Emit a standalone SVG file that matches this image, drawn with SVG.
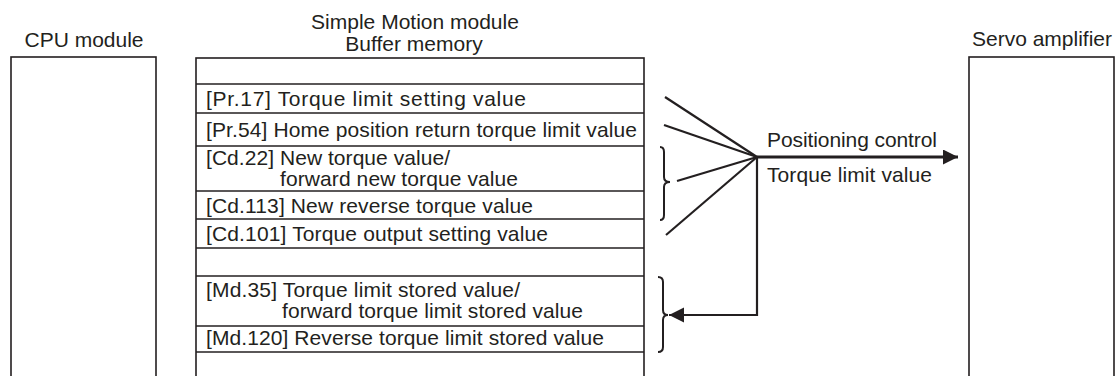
<svg xmlns="http://www.w3.org/2000/svg" width="1115" height="376" viewBox="0 0 1115 376">
<defs>
<style>
.box{fill:#fff;stroke:#231f20;stroke-width:1.6}
.row{stroke:#231f20;stroke-width:1.4}
.t{font-family:"Liberation Sans",Arial,sans-serif;font-size:21px;fill:#231f20}
.h{font-family:"Liberation Sans",Arial,sans-serif;font-size:21px;fill:#231f20;text-anchor:middle}
.ln{stroke:#231f20;stroke-width:2.2;fill:none}
.br{stroke:#231f20;stroke-width:2;fill:none}
</style>
<marker id="ah" markerWidth="16" markerHeight="16" refX="15" refY="7.5" orient="auto" markerUnits="userSpaceOnUse">
<path d="M0,0 L15,7.5 L0,15 Z" fill="#231f20"/>
</marker>
</defs>
<rect width="1115" height="376" fill="#fff"/>
<g id="cpu">
<rect class="box" x="11" y="57" width="145" height="330"/>
<text class="h" x="84" y="47">CPU module</text>
</g>
<g id="servo">
<rect class="box" x="969" y="57" width="145" height="330"/>
<text class="h" x="1042" y="46">Servo amplifier</text>
</g>
<g id="memory">
<text class="h" x="415" y="29">Simple Motion module</text>
<text class="h" x="414" y="51">Buffer memory</text>
<rect class="box" x="196" y="58" width="448" height="330"/>
<line class="row" x1="196" y1="84" x2="644" y2="84"/>
<line class="row" x1="196" y1="113" x2="644" y2="113"/>
<line class="row" x1="196" y1="146" x2="644" y2="146"/>
<line class="row" x1="196" y1="191" x2="644" y2="191"/>
<line class="row" x1="196" y1="219" x2="644" y2="219"/>
<line class="row" x1="196" y1="248" x2="644" y2="248"/>
<line class="row" x1="196" y1="276" x2="644" y2="276"/>
<line class="row" x1="196" y1="326" x2="644" y2="326"/>
<line class="row" x1="196" y1="352" x2="644" y2="352"/>
<text class="t" x="206" y="106" textLength="320">[Pr.17] Torque limit setting value</text>
<text class="t" x="206" y="137" textLength="431">[Pr.54] Home position return torque limit value</text>
<text class="t" x="206" y="165" textLength="244">[Cd.22] New torque value/</text>
<text class="t" x="280" y="186" textLength="238">forward new torque value</text>
<text class="t" x="206" y="213" textLength="327">[Cd.113] New reverse torque value</text>
<text class="t" x="206" y="241" textLength="342">[Cd.101] Torque output setting value</text>
<text class="t" x="206" y="297" textLength="314">[Md.35] Torque limit stored value/</text>
<text class="t" x="282" y="318" textLength="301">forward torque limit stored value</text>
<text class="t" x="206" y="345" textLength="398">[Md.120] Reverse torque limit stored value</text>
</g>
<g id="braces">
<path class="br" d="M660,147 Q664,147 664,152 L664,177 Q664,182 670,182 Q664,182 664,187 L664,215 Q664,220 660,220"/>
<path class="br" d="M658,277 Q663,277 663,282 L663,310 Q663,315 668,315 Q663,315 663,320 L663,347 Q663,352 658,352"/>
</g>
<g id="connectors">
<line class="ln" x1="665" y1="97" x2="757" y2="157"/>
<line class="ln" x1="664" y1="125" x2="757" y2="157"/>
<line class="ln" x1="677" y1="181" x2="757" y2="157"/>
<line class="ln" x1="666" y1="235" x2="757" y2="157"/>
<line stroke="#231f20" stroke-width="3.2" x1="757" y1="157" x2="958" y2="157" marker-end="url(#ah)"/>
<polyline class="ln" points="757,157 757,315 669,315" marker-end="url(#ah)"/>
<text class="t" x="767" y="147" textLength="170">Positioning control</text>
<text class="t" x="767" y="182" textLength="165">Torque limit value</text>
</g>
</svg>
